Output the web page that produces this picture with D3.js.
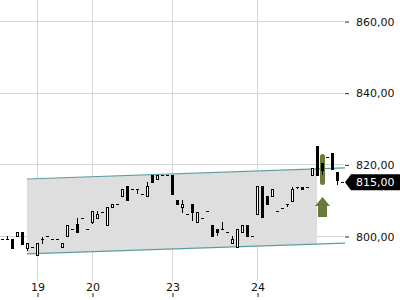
<!DOCTYPE html>
<html>
<head>
<meta charset="utf-8">
<script src="https://cdn.jsdelivr.net/npm/d3@7"></script>
<style>
  body { margin: 0; background: #fff; }
  svg { display: block; font-family: 'DejaVu Sans', sans-serif; }
</style>
</head>
<body>
<svg id="chart" width="400" height="300"></svg>
<script>
// candle data, one entry per interval (index 0..68)
const opens = [799.1, 799.1, 799.2, 800.0, 801.1, 796.7, 797.0, 794.8, 799.1, 799.9,
  799.1, 799.1, 797.0, 799.9, 802.0, 803.3, 804.9, 802.0, 803.9, 805.0,
  806.8, 803.0, 808.0, 808.9, 811.2, 814.0, 813.1, 813.1, 811.8, 811.2,
  817.0, 815.9, 817.0, 817.0, 817.0, 810.0, 808.1, 806.1, 808.9, 803.9,
  805.0, 807.0, 803.1, 802.0, 802.0, 801.1, 798.0, 796.9, 801.1, 803.1,
  800.0, 806.1, 814.0, 811.2, 811.2, 807.0, 807.8, 808.9, 809.8, 813.7,
  813.7, 813.7, 817.0, 825.1, 820.4, 822.0, 823.2, 817.9, 815.0];
const closes = [799.1, 799.1, 796.7, 801.1, 797.8, 798.0, 797.0, 798.1, 799.1, 799.9,
  799.1, 799.1, 798.0, 803.0, 802.0, 801.0, 804.9, 802.0, 807.0, 806.1,
  806.8, 808.0, 808.9, 808.9, 813.1, 810.0, 813.1, 813.1, 811.8, 814.0,
  815.1, 817.0, 817.0, 817.0, 811.7, 808.8, 808.9, 806.1, 806.7, 806.7,
  805.0, 807.0, 800.0, 801.1, 802.0, 801.1, 799.2, 802.0, 803.1, 800.0,
  800.0, 814.0, 805.3, 808.9, 813.1, 807.0, 807.8, 808.9, 813.1, 813.7,
  813.1, 813.7, 819.0, 817.0, 818.4, 822.0, 818.8, 815.6, 815.0];
const highs = [799.1, 800.0, 799.2, 801.1, 801.1, 798.0, 797.0, 798.1, 799.8, 799.9,
  799.1, 799.1, 798.0, 803.0, 802.0, 805.1, 804.9, 802.0, 807.0, 807.0,
  806.8, 808.0, 808.9, 808.9, 813.1, 814.0, 813.1, 813.1, 811.8, 815.1,
  817.0, 817.0, 817.0, 817.0, 817.0, 810.0, 810.0, 806.1, 808.9, 806.7,
  805.0, 807.0, 803.1, 802.0, 803.9, 801.1, 800.0, 802.0, 803.1, 803.1,
  800.0, 814.0, 814.0, 811.2, 813.1, 807.0, 807.8, 808.9, 813.7, 813.7,
  813.7, 813.7, 819.0, 825.1, 820.4, 822.0, 823.2, 817.9, 815.0];
const lows = [799.1, 799.1, 796.7, 800.0, 797.8, 795.8, 797.0, 794.8, 797.8, 799.9,
  799.1, 799.1, 797.0, 799.9, 802.0, 801.0, 804.9, 802.0, 803.3, 805.0,
  806.8, 803.0, 808.0, 808.9, 811.2, 810.0, 813.1, 811.7, 811.8, 811.2,
  815.1, 815.9, 817.0, 817.0, 811.7, 808.8, 806.4, 806.1, 804.2, 803.9,
  805.0, 807.0, 800.0, 800.0, 802.0, 801.1, 798.0, 796.9, 801.1, 800.0,
  800.0, 806.1, 805.3, 808.9, 811.2, 807.0, 807.8, 808.1, 809.8, 813.1,
  813.1, 813.7, 817.0, 817.0, 817.0, 822.0, 818.8, 814.2, 815.0];

const dayIndex = [7, 18, 34, 51];
const dayLabels = ['19', '20', '23', '24'];
const priceTicks = [800, 820, 840, 860];
const lastPrice = 815.0;

// trend channel (index positions, upper and lower prices)
const channelIdx = [4.9, 68.5];
const channelTop = [815.9, 819.0];
const channelBottom = [795.0, 798.0];
const channelShadeEnd = 62.9;

// highlighted candle and signal arrow
const signalIdx = 64;
const signalRange = [822.9, 814.2];
const arrowRange = [810.9, 805.3];

const svg = d3.select('#chart');
const plotRight = 345;

const x = d3.scaleLinear().domain([0, 68]).range([2.5, 342.5]);
const y = d3.scaleLinear().domain([800, 860]).range([236, 21]);
const fmt = d3.formatLocale({ decimal: ',', thousands: '.', grouping: [3], currency: ['', ''] }).format(',.2f');

// grid
svg.append('g')
  .selectAll('line')
  .data(priceTicks)
  .enter()
  .append('line')
  .attr('x1', 0)
  .attr('x2', plotRight - 1)
  .attr('y1', (d) => Math.round(y(d)) + 0.5)
  .attr('y2', (d) => Math.round(y(d)) + 0.5)
  .attr('stroke', '#d6d6d6');

svg.append('g')
  .selectAll('line')
  .data(dayIndex)
  .enter()
  .append('line')
  .attr('x1', (d) => x(d))
  .attr('x2', (d) => x(d))
  .attr('y1', 0)
  .attr('y2', 281)
  .attr('stroke', '#d6d6d6');

// channel shading
const lerp = (arr, i) => arr[0] + (arr[1] - arr[0]) * (i - channelIdx[0]) / (channelIdx[1] - channelIdx[0]);
svg.append('path')
  .attr('d', d3.line()([
    [x(channelIdx[0]), y(channelTop[0])],
    [x(channelShadeEnd), y(lerp(channelTop, channelShadeEnd))],
    [x(channelShadeEnd), y(lerp(channelBottom, channelShadeEnd))],
    [x(channelIdx[0]), y(channelBottom[0])]
  ]) + 'Z')
  .attr('fill', '#dedede');

[channelTop, channelBottom].forEach((arr) => {
  svg.append('line')
    .attr('x1', x(channelIdx[0]))
    .attr('x2', x(channelIdx[1]))
    .attr('y1', y(arr[0]))
    .attr('y2', y(arr[1]))
    .attr('stroke', '#5b9ea0')
    .attr('stroke-width', 1.2);
});

// highlight pill behind the signal candle
svg.append('rect')
  .attr('x', x(signalIdx) - 2.5)
  .attr('y', y(signalRange[0]))
  .attr('width', 5)
  .attr('height', y(signalRange[1]) - y(signalRange[0]))
  .attr('rx', 2.5)
  .attr('fill', '#6a7c3a');

// candles
const candles = svg.append('g').attr('shape-rendering', 'crispEdges');
opens.forEach((o, i) => {
  const c = closes[i];
  const cx = x(i);
  const left = cx - 1.5;
  const yHi = Math.round(y(highs[i]));
  const yLo = Math.round(y(lows[i]));
  const yTop = Math.round(y(Math.max(o, c)));
  const yBot = Math.round(y(Math.min(o, c)));

  if (yLo > yHi) {
    candles.append('line')
      .attr('x1', cx).attr('x2', cx)
      .attr('y1', yHi).attr('y2', yLo)
      .attr('stroke', '#000');
  }
  if (yBot - yTop < 1) {
    candles.append('line')
      .attr('x1', left).attr('x2', left + 3)
      .attr('y1', yTop + 0.5).attr('y2', yTop + 0.5)
      .attr('stroke', '#000');
  } else if (c > o) {
    candles.append('rect')
      .attr('x', left + 0.5).attr('y', yTop + 0.5)
      .attr('width', 2).attr('height', yBot - yTop)
      .attr('fill', '#fff').attr('stroke', '#000');
  } else {
    candles.append('rect')
      .attr('x', left).attr('y', yTop)
      .attr('width', 3).attr('height', yBot - yTop + 1)
      .attr('fill', '#000');
  }
});

// signal arrow
const ax = x(signalIdx);
const aTip = y(arrowRange[0]);
const aBase = y(arrowRange[1]);
svg.append('path')
  .attr('d', d3.line()([
    [ax, aTip], [ax + 7.5, aTip + 9], [ax + 4.5, aTip + 9], [ax + 4.5, aBase],
    [ax - 4.5, aBase], [ax - 4.5, aTip + 9], [ax - 7.5, aTip + 9]
  ]) + 'Z')
  .attr('fill', '#687a38');

// price axis
const yAxis = svg.append('g')
  .attr('transform', `translate(${plotRight}, 0.5)`)
  .call(d3.axisRight(y).tickValues(priceTicks).tickSize(4).tickPadding(7).tickFormat(fmt));
yAxis.select('.domain').remove();
yAxis.selectAll('line').attr('stroke', '#222');
yAxis.selectAll('text').attr('font-size', 11).attr('font-family', 'DejaVu Sans').attr('fill', '#111');

// day axis
const xAxis = svg.append('g')
  .attr('transform', 'translate(0, 293)')
  .call(d3.axisBottom(x).tickValues(dayIndex).tickSize(4).tickFormat((d, i) => dayLabels[i]));
xAxis.select('.domain').remove();
xAxis.selectAll('line').attr('stroke', '#222');
xAxis.selectAll('text')
  .attr('y', -2)
  .attr('dy', 0)
  .attr('font-size', 11)
  .attr('font-family', 'DejaVu Sans')
  .attr('fill', '#111');

// last price marker
const ly = y(lastPrice);
svg.append('path')
  .attr('d', d3.line()([[plotRight, ly], [351, ly - 8], [400, ly - 8], [400, ly + 8], [351, ly + 8]]) + 'Z')
  .attr('fill', '#000');
svg.append('text')
  .attr('x', 356)
  .attr('y', ly)
  .attr('dy', '0.35em')
  .attr('font-size', 11)
  .attr('fill', '#fff')
  .text(fmt(lastPrice));
</script>
</body>
</html>
